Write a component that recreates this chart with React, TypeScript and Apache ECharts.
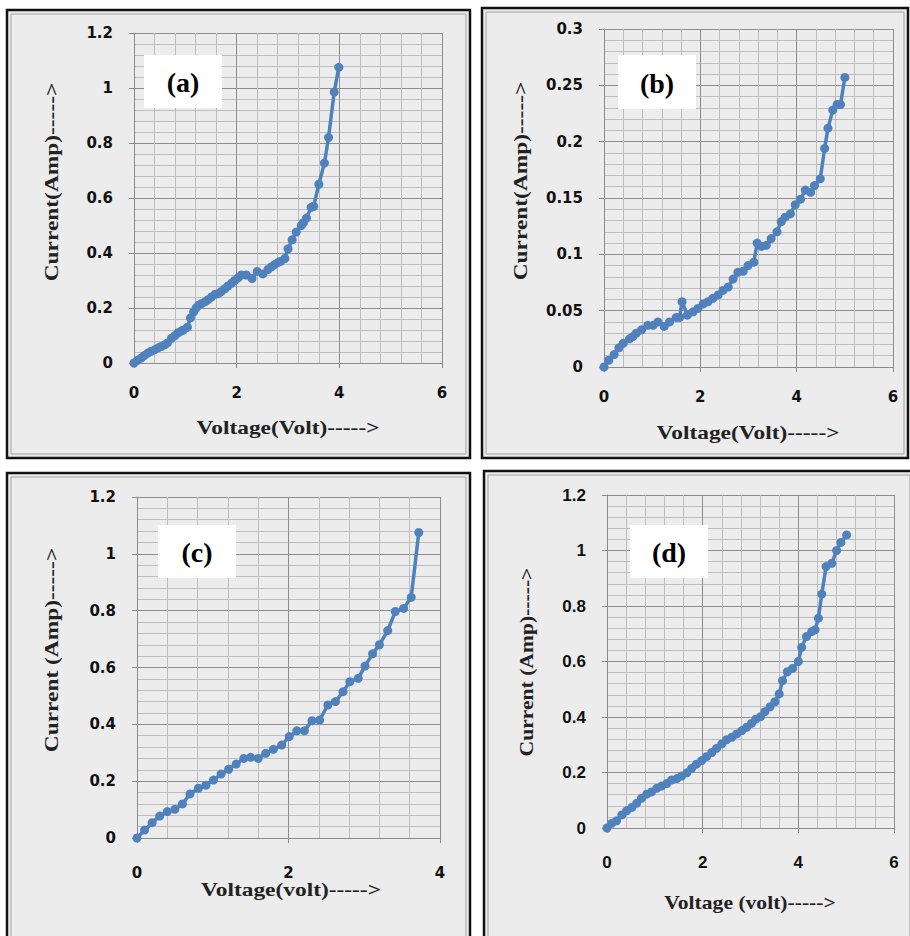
import React, { useEffect, useRef } from "react";
import * as echarts from "echarts";

// [voltage (V), current (A)]
const panelA: [number, number][] = [
  [0, 0], [0.07, 0.01], [0.14, 0.018], [0.2, 0.027], [0.27, 0.036], [0.33, 0.042],
  [0.4, 0.048], [0.47, 0.055], [0.53, 0.06], [0.6, 0.066], [0.65, 0.073], [0.73, 0.09],
  [0.8, 0.1], [0.86, 0.11], [0.92, 0.116], [0.96, 0.12], [1.04, 0.13], [1.1, 0.164],
  [1.16, 0.185], [1.21, 0.2], [1.26, 0.21], [1.31, 0.215], [1.38, 0.222], [1.44, 0.23],
  [1.51, 0.24], [1.58, 0.25], [1.64, 0.252], [1.7, 0.26], [1.77, 0.27], [1.83, 0.28],
  [1.9, 0.29], [1.96, 0.3], [2.03, 0.31], [2.09, 0.32], [2.19, 0.32], [2.3, 0.307],
  [2.4, 0.333], [2.51, 0.324], [2.61, 0.34], [2.68, 0.35], [2.74, 0.358], [2.8, 0.365],
  [2.86, 0.37], [2.94, 0.38], [3.0, 0.415], [3.08, 0.448], [3.16, 0.476], [3.26, 0.5],
  [3.3, 0.51], [3.36, 0.527], [3.45, 0.566], [3.5, 0.57], [3.6, 0.65], [3.71, 0.727],
  [3.79, 0.82], [3.9, 0.985], [3.99, 1.075],
];

const panelB: [number, number][] = [
  [0, 0], [0.1, 0.006], [0.21, 0.011], [0.31, 0.017], [0.4, 0.021], [0.53, 0.025],
  [0.6, 0.027], [0.67, 0.03], [0.78, 0.033], [0.91, 0.037], [1.02, 0.037], [1.12, 0.04],
  [1.25, 0.036], [1.36, 0.04], [1.5, 0.044], [1.57, 0.044], [1.62, 0.058], [1.73, 0.046],
  [1.85, 0.049], [1.95, 0.052], [2.06, 0.056], [2.16, 0.058], [2.26, 0.061], [2.37, 0.064],
  [2.47, 0.068], [2.58, 0.071], [2.68, 0.078], [2.78, 0.084], [2.89, 0.085], [2.99, 0.09],
  [3.11, 0.093], [3.18, 0.11], [3.27, 0.107], [3.37, 0.108], [3.47, 0.114], [3.59, 0.12],
  [3.68, 0.129], [3.76, 0.133], [3.87, 0.136], [3.97, 0.144], [4.08, 0.149], [4.18, 0.157],
  [4.29, 0.155], [4.37, 0.161], [4.49, 0.167], [4.58, 0.194], [4.65, 0.212], [4.75, 0.228],
  [4.84, 0.233], [4.91, 0.233], [5.0, 0.257],
];

const panelC: [number, number][] = [
  [0, 0], [0.1, 0.028], [0.2, 0.054], [0.3, 0.077], [0.4, 0.093], [0.5, 0.101],
  [0.6, 0.12], [0.7, 0.155], [0.81, 0.175], [0.91, 0.186], [1.01, 0.204], [1.11, 0.225],
  [1.21, 0.242], [1.31, 0.26], [1.41, 0.28], [1.5, 0.284], [1.6, 0.28], [1.7, 0.298],
  [1.8, 0.312], [1.91, 0.327], [2.01, 0.357], [2.11, 0.377], [2.21, 0.377], [2.31, 0.413],
  [2.41, 0.415], [2.52, 0.468], [2.62, 0.48], [2.72, 0.515], [2.81, 0.55], [2.92, 0.562],
  [3.01, 0.605], [3.11, 0.648], [3.2, 0.68], [3.31, 0.73], [3.41, 0.797], [3.52, 0.808],
  [3.62, 0.847], [3.72, 1.075],
];

const panelD: [number, number][] = [
  [0, 0], [0.1, 0.017], [0.2, 0.026], [0.31, 0.047], [0.41, 0.062], [0.52, 0.074],
  [0.62, 0.089], [0.72, 0.107], [0.83, 0.122], [0.93, 0.13], [1.04, 0.143], [1.14, 0.151],
  [1.25, 0.16], [1.35, 0.173], [1.46, 0.178], [1.56, 0.187], [1.67, 0.199], [1.77, 0.215],
  [1.87, 0.23], [1.98, 0.243], [2.08, 0.257], [2.19, 0.272], [2.29, 0.287], [2.4, 0.303],
  [2.5, 0.318], [2.61, 0.327], [2.71, 0.339], [2.82, 0.351], [2.92, 0.363], [3.02, 0.377],
  [3.11, 0.392], [3.21, 0.401], [3.3, 0.419], [3.41, 0.437], [3.51, 0.455], [3.6, 0.483],
  [3.67, 0.531], [3.77, 0.563], [3.88, 0.575], [4.0, 0.6], [4.07, 0.651], [4.17, 0.69],
  [4.28, 0.708], [4.35, 0.714], [4.42, 0.756], [4.49, 0.843], [4.58, 0.942], [4.7, 0.954],
  [4.8, 1.0], [4.89, 1.029], [5.01, 1.056],
];

const panelLetters = ["(a)", "(b)", "(c)", "(d)"];
const xTitles = ["Voltage(Volt)----->", "Voltage(Volt)----->", "Voltage(volt)----->", "Voltage (volt)----->"];
const yTitles = ["Current(Amp)----->", "Current(Amp)----->", "Current (Amp)----->", "Current (Amp)----->"];
const xMax = [6, 6, 4, 6];
const yMax = [1.2, 0.3, 1.2, 1.2];
const yInterval = [0.2, 0.05, 0.2, 0.2];

// layout (pixels)
const grids = [
  { left: 134, top: 33, width: 308, height: 330 },
  { left: 604, top: 29, width: 289, height: 338 },
  { left: 137, top: 497, width: 303, height: 341 },
  { left: 607, top: 495, width: 287, height: 333 },
];
const boxes = [
  { x: 7, y: 10, w: 463, h: 448 },
  { x: 482, y: 8, w: 426, h: 450 },
  { x: 7, y: 473, w: 463, h: 475 },
  { x: 484, y: 471, w: 430, h: 475 },
];
const letterBoxes = [
  { x: 144, y: 55, w: 78, h: 53 },
  { x: 618, y: 55, w: 78, h: 54 },
  { x: 158, y: 525, w: 78, h: 53 },
  { x: 630, y: 525, w: 78, h: 53 },
];
const xTitlePos = [[288, 428], [748, 433], [291, 890], [750, 903]];
const yTitlePos = [[52, 182], [521, 181], [52, 650], [527, 662]];
const xLabelMargin = [22, 22, 27, 26];
const labelFont = [
  { size: 15, family: "DejaVu Sans", weight: "bold" },
  { size: 15, family: "DejaVu Sans", weight: "bold" },
  { size: 15, family: "DejaVu Sans", weight: "bold" },
  { size: 17, family: "Liberation Sans", weight: "bold" },
];
const titleScale = [1.3, 1.3, 1.3, 1.2];
const SERIF = "'Liberation Serif', 'Times New Roman', serif";

const BLUE = "#4f81bd";
const series = [panelA, panelB, panelC, panelD];

export default function App() {
  const ref = useRef<HTMLDivElement>(null);
  useEffect(() => {
    if (!ref.current) return;
    const chart = echarts.init(ref.current, null, { renderer: "svg" });
    const graphic: any[] = [];
    boxes.forEach((b) => {
      graphic.push({
        type: "rect", z: -20, silent: true,
        shape: { x: b.x, y: b.y, width: b.w, height: b.h },
        style: { fill: "#ececec", stroke: "#111", lineWidth: 2.5 },
      });
      graphic.push({
        type: "rect", z: -19, silent: true,
        shape: { x: b.x + 4, y: b.y + 4, width: b.w - 8, height: b.h - 8 },
        style: { fill: "none", stroke: "#a0a0a0", lineWidth: 1 },
      });
    });
    letterBoxes.forEach((b, i) => {
      graphic.push({
        type: "rect", z: 50,
        shape: { x: b.x, y: b.y, width: b.w, height: b.h },
        style: { fill: "#ffffff" },
      });
      graphic.push({
        type: "text", z: 51, x: b.x + b.w / 2, y: b.y + b.h / 2 + 1,
        style: {
          text: panelLetters[i], fill: "#000",
          fontFamily: SERIF, fontSize: 28, fontWeight: "bold",
          align: "center", verticalAlign: "middle",
          textAlign: "center", textVerticalAlign: "middle",
        },
      });
    });
    xTitlePos.forEach((p, i) => {
      graphic.push({
        type: "text", z: 30, x: p[0], y: p[1], scaleX: titleScale[i],
        style: {
          text: xTitles[i], fill: "#222",
          fontFamily: SERIF, fontSize: 18, fontWeight: "bold",
          align: "center", verticalAlign: "middle",
          textAlign: "center", textVerticalAlign: "middle",
        },
      });
    });
    yTitlePos.forEach((p, i) => {
      graphic.push({
        type: "text", z: 30, x: p[0], y: p[1], rotation: Math.PI / 2, scaleX: titleScale[i],
        style: {
          text: yTitles[i], fill: "#222",
          fontFamily: SERIF, fontSize: 18, fontWeight: "bold",
          align: "center", verticalAlign: "middle",
          textAlign: "center", textVerticalAlign: "middle",
        },
      });
    });

    const axisCommon = () => ({
      axisLine: { show: true, onZero: false, lineStyle: { color: "#8a8a8a", width: 1 } },
      axisTick: { show: true, length: 5, lineStyle: { color: "#8a8a8a" } },
      splitLine: { show: true, lineStyle: { color: "#8e8e8e", width: 1 } },
      minorTick: { show: false, splitNumber: 5 },
      minorSplitLine: { show: true, lineStyle: { color: "#bdbdbd", width: 1 } },
    });

    chart.setOption({
      animation: false,
      backgroundColor: "#ffffff",
      graphic,
      grid: grids.map((g) => ({
        ...g, show: true, backgroundColor: "#ececec", borderWidth: 0, containLabel: false,
      })),
      xAxis: grids.map((_, i) => ({
        type: "value", gridIndex: i, min: 0, max: xMax[i], interval: 2,
        ...axisCommon(),
        axisLabel: {
          margin: xLabelMargin[i], color: "#111",
          fontSize: labelFont[i].size, fontFamily: labelFont[i].family, fontWeight: labelFont[i].weight,
        },
      })),
      yAxis: grids.map((_, i) => ({
        type: "value", gridIndex: i, min: 0, max: yMax[i], interval: yInterval[i],
        ...axisCommon(),
        axisLabel: {
          margin: 21, color: "#111",
          fontSize: labelFont[i].size, fontFamily: labelFont[i].family, fontWeight: labelFont[i].weight,
        },
      })),
      series: series.map((d, i) => ({
        type: "line", xAxisIndex: i, yAxisIndex: i, data: d,
        symbol: "circle", symbolSize: 9, showSymbol: true,
        lineStyle: { color: BLUE, width: 3.5 },
        itemStyle: { color: BLUE },
        z: 5,
      })),
    });
    return () => chart.dispose();
  }, []);
  return (
    <div
      ref={ref}
      style={{ position: "absolute", left: 0, top: 0, width: 910, height: 936 }}
    />
  );
}
